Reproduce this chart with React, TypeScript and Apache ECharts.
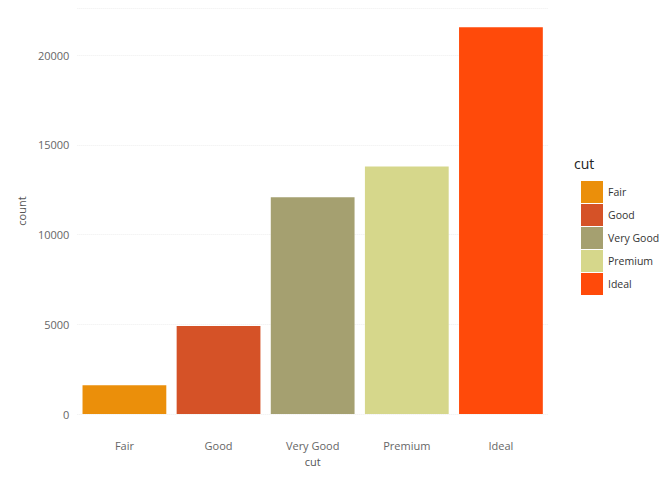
import React, { useEffect, useRef } from "react";
import * as echarts from "echarts";

const categories = ["Fair", "Good", "Very Good", "Premium", "Ideal"];
const counts = [1610, 4906, 12082, 13791, 21551];
const colors = ["#EB8F0A", "#D55227", "#A5A070", "#D6D78B", "#FF4A0A"];

export default function App() {
  const ref = useRef<HTMLDivElement>(null);
  useEffect(() => {
    const chart = echarts.init(ref.current!, undefined, { renderer: "svg" });
    const font = "Open Sans";
    chart.setOption({
      animation: false,
      textStyle: { fontFamily: font },
      grid: { left: 59, right: 116, top: 0, bottom: 49 },
      xAxis: {
        type: "category",
        data: categories,
        name: "cut",
        nameLocation: "middle",
        nameGap: 40,
        nameTextStyle: { color: "#555", fontSize: 11 },
        axisLine: { show: false },
        axisTick: { show: false },
        axisLabel: { color: "#666", fontSize: 11, margin: 26 },
        splitLine: { show: false },
      },
      yAxis: {
        type: "value",
        min: 0,
        max: 22628,
        interval: 5000,
        name: "count",
        nameLocation: "middle",
        nameGap: 46,
        nameTextStyle: { color: "#555", fontSize: 11 },
        axisLine: { show: false },
        axisTick: { show: false },
        axisLabel: { color: "#666", fontSize: 11, showMaxLabel: false, formatter: (v: number) => String(v) },
        splitLine: { lineStyle: { color: "#eee", type: "dotted" } },
      },
      legend: {
        orient: "vertical",
        left: 568,
        top: 168,
        itemWidth: 22,
        itemHeight: 22,
        itemGap: 1,
        icon: "rect",
        data: categories,
        textStyle: { color: "#333", fontSize: 10.5, fontFamily: font },
      },
      graphic: [
        { type: "text", left: 566, top: 148, style: { text: "cut", fontSize: 14, fill: "#222", fontFamily: font } },
      ],
      series: categories.map((c, i) => ({
        name: c,
        type: "bar",
        stack: "a",
        barCategoryGap: "11%",
        itemStyle: { color: colors[i] },
        data: counts.map((v, j) => (j === i ? v : null)),
      })),
    });
    return () => chart.dispose();
  }, []);
  return <div ref={ref} style={{ width: 656, height: 464 }} />;
}
